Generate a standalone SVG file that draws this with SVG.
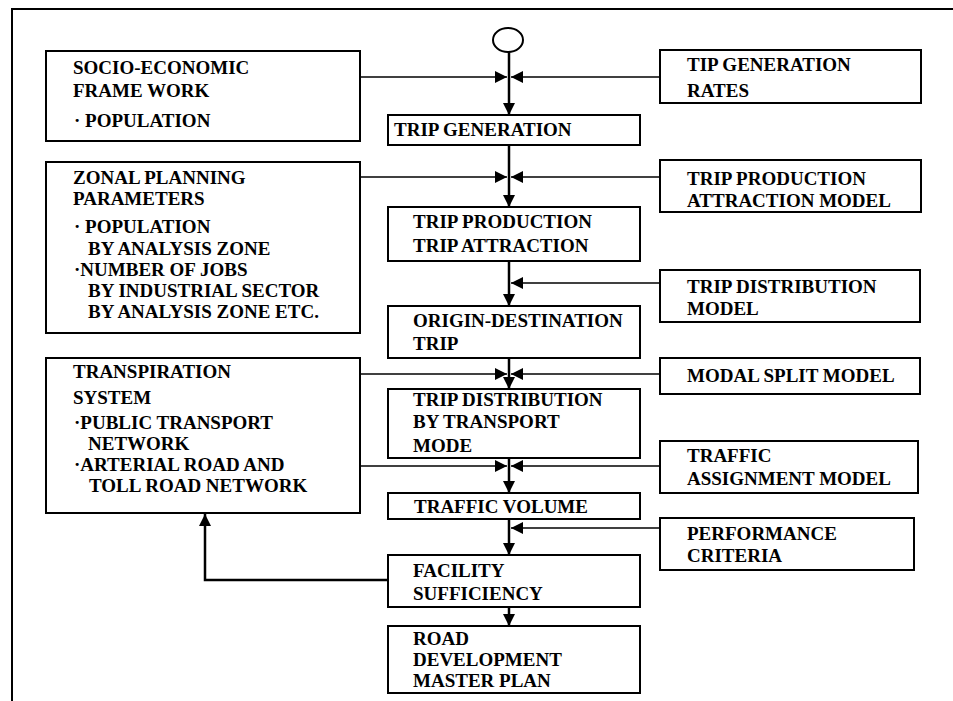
<svg xmlns="http://www.w3.org/2000/svg" width="953" height="701" viewBox="0 0 953 701">
<style>
text{font-family:'Liberation Serif','Times New Roman',serif;font-weight:700;font-size:19px;fill:#000}
.box{fill:#fff;stroke:#000;stroke-width:2}
.frame{fill:none;stroke:#000;stroke-width:2}
.h{fill:none;stroke:#000;stroke-width:1.5}
.v{fill:none;stroke:#000;stroke-width:2.5}
</style>
<defs>
<marker id="ah" viewBox="0 0 10 10" refX="10" refY="5" markerWidth="12" markerHeight="12" markerUnits="userSpaceOnUse" orient="auto">
<path d="M0,0 L10,5 L0,10 z" fill="#000"/>
</marker>
</defs>
<rect width="953" height="701" fill="#fff"/>
<path class="frame" d="M12,701 L12,9 L953,9"/>

<g id="connectors">
<line class="h" x1="361" y1="77" x2="507" y2="77" marker-end="url(#ah)"/>
<line class="h" x1="660" y1="77" x2="511" y2="77" marker-end="url(#ah)"/>
<line class="h" x1="361" y1="177" x2="507" y2="177" marker-end="url(#ah)"/>
<line class="h" x1="660" y1="177" x2="511" y2="177" marker-end="url(#ah)"/>
<line class="h" x1="660" y1="283" x2="511" y2="283" marker-end="url(#ah)"/>
<line class="h" x1="361" y1="374" x2="507" y2="374" marker-end="url(#ah)"/>
<line class="h" x1="660" y1="374" x2="511" y2="374" marker-end="url(#ah)"/>
<line class="h" x1="361" y1="466" x2="507" y2="466" marker-end="url(#ah)"/>
<line class="h" x1="660" y1="466" x2="511" y2="466" marker-end="url(#ah)"/>
<line class="h" x1="660" y1="528" x2="511" y2="528" marker-end="url(#ah)"/>
<line class="v" x1="509" y1="52" x2="509" y2="115" marker-end="url(#ah)"/>
<line class="v" x1="509" y1="145" x2="509" y2="207" marker-end="url(#ah)"/>
<line class="v" x1="509" y1="261" x2="509" y2="306" marker-end="url(#ah)"/>
<line class="v" x1="509" y1="358" x2="509" y2="389" marker-end="url(#ah)"/>
<line class="v" x1="509" y1="458" x2="509" y2="493" marker-end="url(#ah)"/>
<line class="v" x1="509" y1="519" x2="509" y2="555" marker-end="url(#ah)"/>
<line class="v" x1="509" y1="607" x2="509" y2="626" marker-end="url(#ah)"/>
<polyline class="v" points="388,580 205,580 205,514" marker-end="url(#ah)"/>
</g>

<g id="start">
<ellipse cx="508" cy="40" rx="15" ry="12" fill="#fff" stroke="#000" stroke-width="2"/>
</g>

<g id="socio-economic">
<rect class="box" x="46" y="51" width="314" height="90"/>
<text x="73" y="74">SOCIO-ECONOMIC</text>
<text x="73" y="97">FRAME WORK</text>
<text x="74" y="127">· POPULATION</text>
</g>

<g id="zonal">
<rect class="box" x="46" y="162" width="314" height="171"/>
<text x="73" y="184">ZONAL PLANNING</text>
<text x="73" y="205">PARAMETERS</text>
<text x="74" y="233">· POPULATION</text>
<text x="88" y="255">BY ANALYSIS ZONE</text>
<text x="74" y="276">·NUMBER OF JOBS</text>
<text x="88" y="297">BY INDUSTRIAL SECTOR</text>
<text x="88" y="318">BY ANALYSIS ZONE ETC.</text>
</g>

<g id="transpiration">
<rect class="box" x="46" y="358" width="314" height="155"/>
<text x="73" y="378">TRANSPIRATION</text>
<text x="73" y="404">SYSTEM</text>
<text x="74" y="429">·PUBLIC TRANSPORT</text>
<text x="88" y="450">NETWORK</text>
<text x="74" y="471">·ARTERIAL ROAD AND</text>
<text x="89" y="492">TOLL ROAD NETWORK</text>
</g>

<g id="trip-generation">
<rect class="box" x="388" y="115" width="252" height="30"/>
<text x="394" y="136">TRIP GENERATION</text>
</g>

<g id="trip-production">
<rect class="box" x="388" y="207" width="252" height="54"/>
<text x="413" y="228">TRIP PRODUCTION</text>
<text x="413" y="252">TRIP ATTRACTION</text>
</g>

<g id="origin-destination">
<rect class="box" x="388" y="306" width="252" height="52"/>
<text x="413" y="327">ORIGIN-DESTINATION</text>
<text x="413" y="350">TRIP</text>
</g>

<g id="trip-distribution-mode">
<rect class="box" x="388" y="389" width="252" height="69"/>
<text x="413" y="406">TRIP DISTRIBUTION</text>
<text x="413" y="428">BY TRANSPORT</text>
<text x="413" y="452">MODE</text>
</g>

<g id="traffic-volume">
<rect class="box" x="388" y="493" width="252" height="26"/>
<text x="414" y="513">TRAFFIC VOLUME</text>
</g>

<g id="facility-sufficiency">
<rect class="box" x="388" y="555" width="252" height="52"/>
<text x="413" y="577">FACILITY</text>
<text x="413" y="600">SUFFICIENCY</text>
</g>

<g id="road-development">
<rect class="box" x="388" y="626" width="252" height="67"/>
<text x="413" y="645">ROAD</text>
<text x="413" y="666">DEVELOPMENT</text>
<text x="413" y="687">MASTER PLAN</text>
</g>

<g id="tip-generation-rates">
<rect class="box" x="660" y="50" width="261" height="53"/>
<text x="687" y="71">TIP GENERATION</text>
<text x="687" y="97">RATES</text>
</g>

<g id="trip-production-attraction-model">
<rect class="box" x="660" y="160" width="261" height="52"/>
<text x="687" y="185">TRIP PRODUCTION</text>
<text x="687" y="207">ATTRACTION MODEL</text>
</g>

<g id="trip-distribution-model">
<rect class="box" x="660" y="270" width="260" height="52"/>
<text x="687" y="293">TRIP DISTRIBUTION</text>
<text x="687" y="315">MODEL</text>
</g>

<g id="modal-split-model">
<rect class="box" x="660" y="358" width="260" height="36"/>
<text x="687" y="382">MODAL SPLIT MODEL</text>
</g>

<g id="traffic-assignment-model">
<rect class="box" x="660" y="441" width="258" height="52"/>
<text x="687" y="462">TRAFFIC</text>
<text x="687" y="485">ASSIGNMENT MODEL</text>
</g>

<g id="performance-criteria">
<rect class="box" x="660" y="518" width="254" height="52"/>
<text x="687" y="540">PERFORMANCE</text>
<text x="687" y="562">CRITERIA</text>
</g>
</svg>
